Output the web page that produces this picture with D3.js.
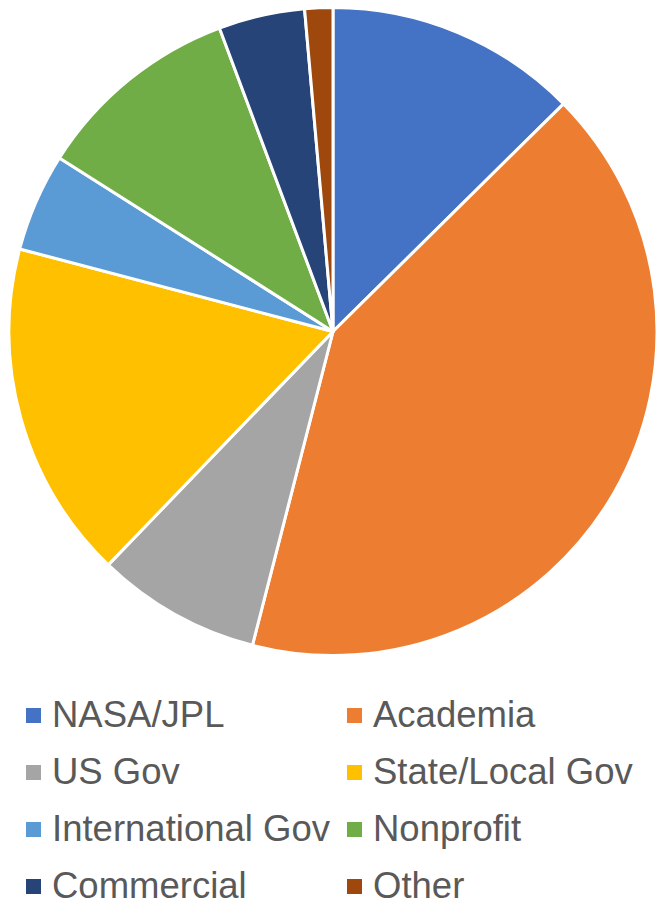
<!DOCTYPE html>
<html>
<head>
<meta charset="utf-8">
<script src="https://cdn.jsdelivr.net/npm/d3@7"></script>
<style>
  body { margin: 0; background: #fff; }
  text { font-family: "Liberation Sans", Arial, sans-serif; }
</style>
</head>
<body>
<div id="viz-wrapper"></div>
<script>
  // size of the svg
  var width = 659,
      height = 901;

  // categories and their share (percent)
  var categories = ["NASA/JPL", "Academia", "US Gov", "State/Local Gov",
                    "International Gov", "Nonprofit", "Commercial", "Other"];
  var shares = [12.6, 41.4, 8.2, 16.9, 4.9, 10.3, 4.3, 1.4];
  var colors = ["#4472C4", "#ED7D31", "#A5A5A5", "#FFC000",
                "#5B9BD5", "#70AD47", "#264478", "#9E480E"];

  var data = categories.map(function(c, i) {
    return {name: c, value: shares[i], color: colors[i]};
  });

  var svg = d3.select("#viz-wrapper")
                .append("svg")
                .attr("width", width)
                .attr("height", height);

  var cx = 333, cy = 331.5, radius = 324;

  var pie = d3.pie()
      .sort(null)
      .value(function(d) { return d.value; });

  var arc = d3.arc()
      .innerRadius(0)
      .outerRadius(radius);

  svg.append("g")
      .attr("transform", "translate(" + cx + "," + cy + ")")
    .selectAll("path")
      .data(pie(data))
      .enter()
    .append("path")
      .attr("d", arc)
      .attr("fill", function(d) { return d.data.color; })
      .attr("stroke", "#fff")
      .attr("stroke-width", 3)
      .attr("stroke-linejoin", "round");

  // legend, two columns
  var colX = d3.scaleOrdinal().domain([0, 1]).range([26, 347]);
  var rowY = d3.scaleLinear().domain([0, 1]).range([727, 784]);

  var legend = svg.selectAll(".legend")
      .data(data)
      .enter()
    .append("g")
      .attr("class", "legend")
      .attr("transform", function(d, i) {
        return "translate(" + colX(i % 2) + "," + rowY(Math.floor(i / 2)) + ")";
      });

  legend.append("rect")
      .attr("x", 0)
      .attr("y", -19)
      .attr("width", 15)
      .attr("height", 15)
      .attr("fill", function(d) { return d.color; });

  legend.append("text")
      .attr("x", 26)
      .attr("y", 0)
      .attr("font-size", 36.5)
      .attr("fill", "#595959")
      .text(function(d) { return d.name; });
</script>
</body>
</html>
